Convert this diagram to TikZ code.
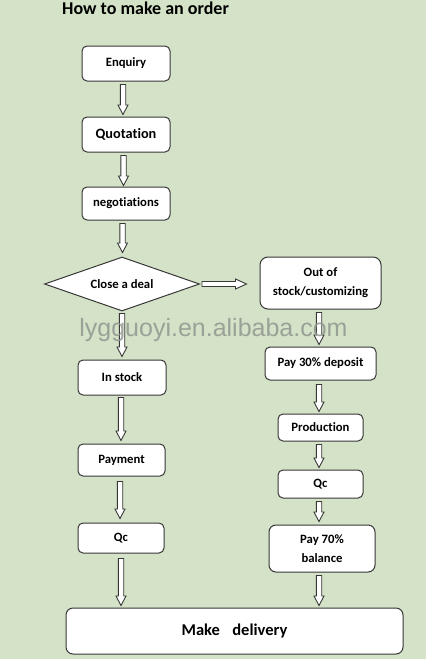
\documentclass[tikz,border=0pt]{standalone}
\usepackage{fontspec}
\setmainfont{Carlito}[Ligatures={NoCommon}]
\newfontfamily\wmfont{Liberation Sans}
\usetikzlibrary{shapes.geometric,calc}
\definecolor{bg}{RGB}{212,226,199}
\definecolor{edgec}{RGB}{55,55,55}
\definecolor{wmc}{RGB}{145,151,143}
\newcommand\arrowdown[2]{\draw[blk] let \p1=(#1), \p2=(#2) in (\x1-2.7pt,\y1) -- (\x1-2.7pt,\y2+9.5pt) -- (\x1-5pt,\y2+9.5pt) -- (\x1,\y2) -- (\x1+5pt,\y2+9.5pt) -- (\x1+2.7pt,\y2+9.5pt) -- (\x1+2.7pt,\y1) -- cycle;}
\newcommand\arrowright[2]{\draw[blk] let \p1=(#1), \p2=(#2) in (\x1,\y1-2.5pt) -- (\x2-11pt,\y1-2.5pt) -- (\x2-11pt,\y1-5pt) -- (\x2,\y1) -- (\x2-11pt,\y1+5pt) -- (\x2-11pt,\y1+2.5pt) -- (\x1,\y1+2.5pt) -- cycle;}
\begin{document}
\begin{tikzpicture}[x=1pt,y=-1pt,
  box/.style={draw=edgec, line width=1pt, fill=white, rounded corners=5pt,
    font=\bfseries\fontsize{12.7}{19}\selectfont, align=center, inner sep=0pt},
  blk/.style={draw=edgec, line width=0.9pt, fill=white, line join=miter}]
\fill[bg] (0,0) rectangle (426,659);
\useasboundingbox (0,0) rectangle (426,659);
\node[font=\bfseries\fontsize{18}{20}\selectfont, anchor=base west, inner sep=0pt] (title) at (62,14) {How to make an order};
% left column
\node[box, minimum width=88pt, minimum height=35pt] (enq) at (126,63.5) {Enquiry};
\node[box, minimum width=88pt, minimum height=35pt, font=\bfseries\fontsize{14.3}{17}\selectfont] (quo) at (126,134.5) {Quotation};
\node[box, minimum width=88pt, minimum height=33pt] (neg) at (126,203.5) {negotiations};
\node[draw=edgec, line width=1pt, fill=white, diamond, aspect=2.87, minimum width=155pt, minimum height=54pt, inner sep=0pt, font=\bfseries\fontsize{12.7}{15}\selectfont] (deal) at (122,284) {Close a deal};
\node[box, minimum width=88pt, minimum height=35pt] (inst) at (122,377.5) {In stock};
\node[box, minimum width=87pt, minimum height=32pt] (pay) at (121.5,460) {Payment};
\node[box, minimum width=86pt, minimum height=30pt] (qcl) at (121,538) {Qc};
% right column
\node[box, minimum width=121pt, minimum height=52pt, rounded corners=8pt] (oos) at (320.5,283) {Out of\\stock/customizing};
\node[box, minimum width=111pt, minimum height=33pt] (p30) at (320.5,363.5) {Pay 30\% deposit};
\node[box, minimum width=85pt, minimum height=27pt] (prod) at (320.5,427.5) {Production};
\node[box, minimum width=85pt, minimum height=28pt] (qcr) at (320.5,484) {Qc};
\node[box, minimum width=106pt, minimum height=47pt, rounded corners=7pt] (p70) at (322,548.5) {Pay 70\%\\balance};
% bottom
\node[box, minimum width=337pt, minimum height=46pt, rounded corners=7pt, font=\bfseries\fontsize{16.5}{20}\selectfont] (del) at (234.5,631) {Make\hspace{0.75em}delivery};
% arrows
\arrowdown{[xshift=-3pt,yshift=-3pt]enq.south}{[yshift=2pt]quo.north}
\arrowdown{[xshift=-2.5pt,yshift=-3pt]quo.south}{[yshift=1pt]neg.north}
\arrowdown{[xshift=-3.5pt,yshift=-3pt]neg.south}{[yshift=4pt]deal.north}
\arrowdown{[yshift=-2pt]deal.south}{[yshift=3pt]inst.north}
\arrowdown{[xshift=-1pt,yshift=-2pt]inst.south}{[yshift=3pt]pay.north}
\arrowdown{[xshift=-1.5pt,yshift=-5pt]pay.south}{[yshift=4pt]qcl.north}
\arrowdown{[yshift=-5pt]qcl.south}{[yshift=2pt]qcl.south |- del.north}
\arrowright{[xshift=2pt]deal.east}{[xshift=-13pt]oos.west}
\arrowdown{[xshift=-1.5pt,yshift=-3pt]oos.south}{[yshift=2pt]p30.north}
\arrowdown{[xshift=-1.5pt,yshift=-4pt]p30.south}{[yshift=2pt]prod.north}
\arrowdown{[xshift=-1.5pt,yshift=-3pt]prod.south}{[yshift=2pt]qcr.north}
\arrowdown{[xshift=-1.5pt,yshift=-3pt]qcr.south}{[yshift=3pt]p70.north}
\arrowdown{[xshift=-3pt,yshift=-3pt]p70.south}{[yshift=2pt]p70.south |- del.north}
% watermark
\node[font=\wmfont\fontsize{25}{25}\selectfont, text=wmc, text opacity=0.85, anchor=base, inner sep=0pt] (wm) at (213.5,336) {lygguoyi.en.alibaba.com};
\end{tikzpicture}
\end{document}
